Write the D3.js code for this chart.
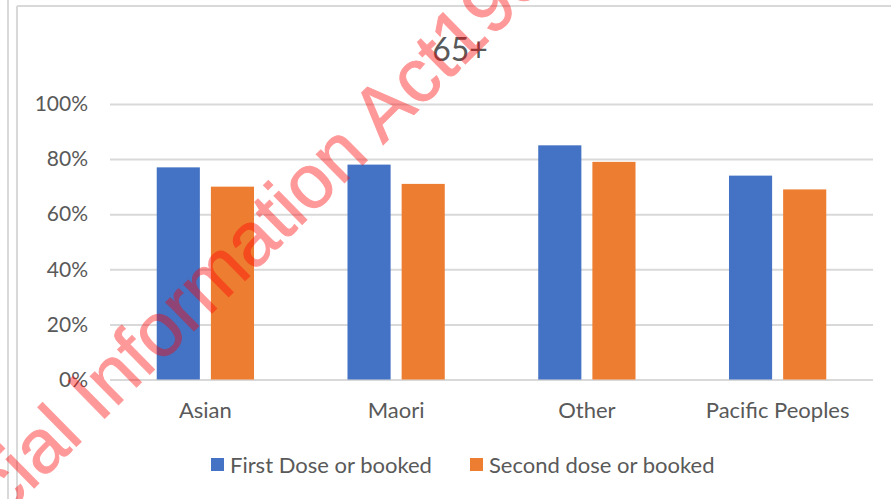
<!DOCTYPE html>
<html>
<head>
<meta charset="utf-8">
<script src="https://cdn.jsdelivr.net/npm/d3@7/dist/d3.min.js"></script>
<style>
  html, body { margin: 0; padding: 0; background: #fff; }
  svg { display: block; }
</style>
</head>
<body>
<svg id="chart" width="891" height="499"></svg>
<script>
const title = "65+";
const categories = ["Asian", "Maori", "Other", "Pacific Peoples"];
const seriesNames = ["First Dose or booked", "Second dose or booked"];
const firstDose = [77, 78, 85, 74];
const secondDose = [70, 71, 79, 69];
const yTicks = [0, 20, 40, 60, 80, 100];
const watermarkText = "Official Information Act1982";

const colors = ["#4472C4", "#ED7D31"];
const textColor = "#595959";
const font = "Lato, 'Open Sans', sans-serif";

const svg = d3.select("#chart");
const W = 891, H = 499;

// frame lines
svg.append("rect").attr("x", 0).attr("y", 0).attr("width", W).attr("height", H).attr("fill", "#fff");
svg.append("line").attr("x1", 8).attr("x2", 8).attr("y1", 0).attr("y2", H)
  .attr("stroke", "#d9d9d9").attr("stroke-width", 2);
svg.append("line").attr("x1", 17).attr("x2", 17).attr("y1", 6).attr("y2", H)
  .attr("stroke", "#d9d9d9").attr("stroke-width", 2);
svg.append("line").attr("x1", 17).attr("x2", W).attr("y1", 6).attr("y2", 6)
  .attr("stroke", "#d9d9d9").attr("stroke-width", 2);

const x = d3.scaleBand().domain(categories).range([110, 873]).paddingInner(0.49).paddingOuter(0.245);
const xSub = d3.scaleBand().domain(seriesNames).range([0, x.bandwidth()]).paddingInner(0.2037).paddingOuter(0);
const y = d3.scaleLinear().domain([0, 100]).range([379.5, 104]);

// gridlines
const yAxis = d3.axisLeft(y).tickValues(yTicks).tickSize(-(873 - 110)).tickFormat(d => d + "%").tickPadding(22);
const gy = svg.append("g").attr("transform", "translate(110,0)").call(yAxis);
gy.select(".domain").remove();
gy.selectAll(".tick line").attr("stroke", "#d9d9d9").attr("stroke-width", 2);
gy.selectAll(".tick text").attr("fill", textColor).attr("font-family", font).attr("font-size", 21);

// bars
const data = categories.map((c, i) => ({ cat: c, vals: [firstDose[i], secondDose[i]] }));
const groups = svg.append("g").selectAll("g").data(data).join("g")
  .attr("transform", d => `translate(${x(d.cat)},0)`);
groups.selectAll("rect").data(d => d.vals.map((v, j) => ({ s: seriesNames[j], v, j }))).join("rect")
  .attr("x", d => xSub(d.s))
  .attr("width", xSub.bandwidth())
  .attr("y", d => y(d.v))
  .attr("height", d => y(0) - y(d.v))
  .attr("fill", d => colors[d.j]);

// category axis labels
const xAxis = d3.axisBottom(x).tickSize(0).tickPadding(0);
const gx = svg.append("g").attr("transform", "translate(0,402)").call(xAxis);
gx.select(".domain").remove();
gx.selectAll(".tick text").attr("fill", textColor).attr("font-family", font).attr("font-size", 22)
  .attr("dy", "0.71em");

// title
svg.append("text").attr("x", 460).attr("y", 61).attr("text-anchor", "middle")
  .attr("fill", textColor).attr("font-family", font).attr("font-size", 32).text(title);

// legend
const legendX = [211, 470];
const leg = svg.append("g").selectAll("g").data(seriesNames).join("g")
  .attr("transform", (d, i) => `translate(${legendX[i]},0)`);
leg.append("rect").attr("x", 0).attr("y", 458).attr("width", 13).attr("height", 13)
  .attr("fill", (d, i) => colors[i]);
leg.append("text").attr("x", 19).attr("y", 465).attr("dy", "0.35em")
  .attr("fill", textColor).attr("font-family", font).attr("font-size", 22).text(d => d);

// watermark
svg.append("g").attr("opacity", 0.4)
  .append("text")
  .attr("transform", "translate(-80,600) rotate(-44.5)")
  .attr("font-family", "'Liberation Sans', Arial, sans-serif")
  .attr("font-size", 76)
  .attr("fill", "#ff0000")
  .attr("stroke", "#ff0000")
  .attr("stroke-width", 1.0)
  .text(watermarkText);
</script>
</body>
</html>
